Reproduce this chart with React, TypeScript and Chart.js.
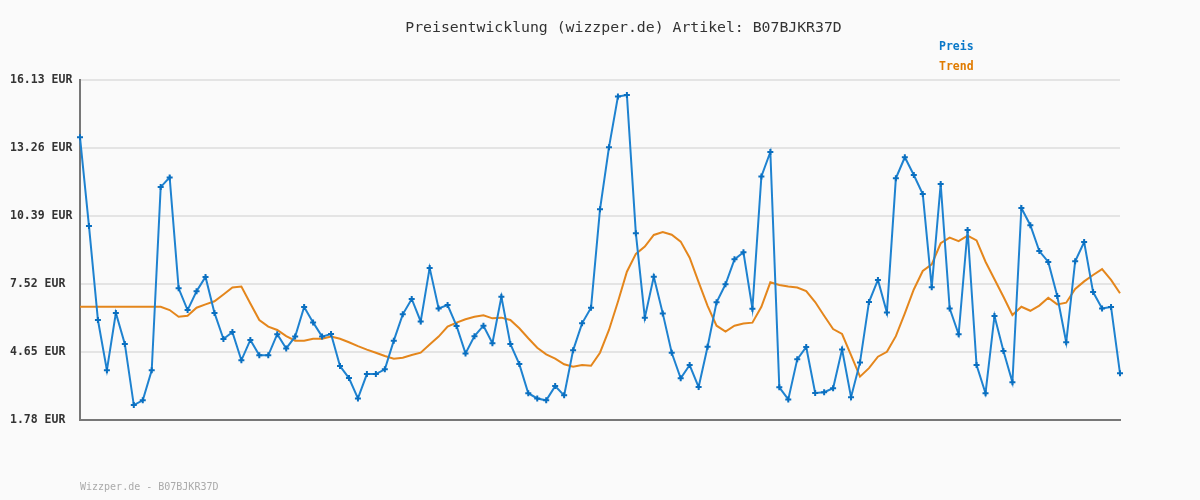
import React, { useEffect, useRef } from "react";
import { Chart, registerables } from "chart.js";

Chart.register(...registerables);

const titleText = "Preisentwicklung (wizzper.de) Artikel: B07BJKR37D";
const footerText = "Wizzper.de - B07BJKR37D";
const seriesNames = ["Preis", "Trend"];
const yTicks = [1.78, 4.65, 7.52, 10.39, 13.26, 16.13];

const priceValues = [
  13.71, 9.97, 6.0, 3.88, 6.3, 4.99, 2.41, 2.61, 3.88, 11.61,
  12.02, 7.34, 6.42, 7.21, 7.82, 6.3, 5.2, 5.49, 4.3, 5.16,
  4.51, 4.51, 5.4, 4.8, 5.3, 6.55, 5.9, 5.3, 5.41, 4.06,
  3.55, 2.69, 3.72, 3.72, 3.92, 5.13, 6.24, 6.89, 5.94, 8.2,
  6.49, 6.63, 5.75, 4.59, 5.32, 5.76, 5.02, 6.98, 4.99, 4.14,
  2.91, 2.69, 2.61, 3.21, 2.82, 4.72, 5.86, 6.52, 10.67, 13.29,
  15.43, 15.5, 9.66, 6.1, 7.83, 6.28, 4.62, 3.54, 4.1, 3.17,
  4.87, 6.75, 7.51, 8.56, 8.86, 6.48, 12.06, 13.09, 3.16, 2.65,
  4.34, 4.86, 2.92, 2.95, 3.12, 4.76, 2.74, 4.21, 6.76, 7.69,
  6.32, 11.98, 12.87, 12.12, 11.32, 7.38, 11.74, 6.49, 5.4, 9.8,
  4.1, 2.91, 6.17, 4.69, 3.37, 10.73, 10.0, 8.91, 8.45, 7.01,
  5.06, 8.48, 9.29, 7.18, 6.49, 6.55, 3.75,
];

const trendValues = [
  6.56, 6.56, 6.56, 6.56, 6.56, 6.56, 6.56, 6.56, 6.56, 6.56,
  6.42, 6.14, 6.18, 6.52, 6.66, 6.79, 7.08, 7.37, 7.41, 6.7,
  6.0, 5.72, 5.58, 5.32, 5.13, 5.13, 5.21, 5.21, 5.3, 5.21,
  5.06, 4.9, 4.75, 4.62, 4.48, 4.37, 4.41, 4.52, 4.62, 4.97,
  5.3, 5.72, 5.89, 6.03, 6.14, 6.2, 6.07, 6.1, 6.0, 5.65,
  5.23, 4.83, 4.55, 4.37, 4.13, 4.03, 4.1, 4.07, 4.62, 5.58,
  6.77, 8.04, 8.79, 9.1, 9.59, 9.71, 9.6, 9.31, 8.63, 7.6,
  6.6, 5.76, 5.51, 5.76, 5.85, 5.89, 6.56, 7.59, 7.48, 7.41,
  7.37, 7.22, 6.76, 6.18, 5.62, 5.41, 4.52, 3.61, 3.97, 4.45,
  4.66, 5.32, 6.28, 7.29, 8.07, 8.35, 9.24, 9.48, 9.33, 9.56,
  9.36, 8.46, 7.72, 6.98, 6.21, 6.56, 6.39, 6.61, 6.94, 6.66,
  6.73, 7.31, 7.63, 7.9, 8.15, 7.69, 7.13,
];

const categories = priceValues.map((_, i) => String(i + 1));

const MONO = '"DejaVu Sans Mono", "Liberation Mono", monospace';

const textPlugin = {
  id: "customText",
  afterDraw(chart: any) {
    const ctx = chart.ctx;
    ctx.save();
    ctx.textBaseline = "middle";
    ctx.fillStyle = "#333333";
    ctx.font = `14.8px ${MONO}`;
    ctx.textAlign = "center";
    ctx.fillText(titleText, 623.5, 28);

    ctx.textAlign = "left";
    ctx.font = `bold 11.5px ${MONO}`;
    ctx.fillStyle = "#0a78c8";
    ctx.fillText(seriesNames[0], 939, 47);
    ctx.fillStyle = "#e07b00";
    ctx.fillText(seriesNames[1], 939, 67);

    ctx.font = `10px ${MONO}`;
    ctx.fillStyle = "#aaaaaa";
    ctx.fillText(footerText, 80, 487);
    ctx.restore();
  },
};

const bgPlugin = {
  id: "bg",
  beforeDraw(chart: any) {
    const ctx = chart.ctx;
    ctx.save();
    ctx.fillStyle = "#fafafa";
    ctx.fillRect(0, 0, chart.width, chart.height);
    ctx.restore();
  },
};

export default function App() {
  const ref = useRef<HTMLCanvasElement>(null);

  useEffect(() => {
    if (!ref.current) return;
    const chart = new Chart(ref.current, {
      type: "line",
      data: {
        labels: categories,
        datasets: [
          {
            label: seriesNames[0],
            data: priceValues,
            borderColor: "#1e82d0",
            borderWidth: 2,
            pointStyle: "cross",
            pointRadius: 3,
            pointBorderWidth: 2,
            pointBorderColor: "#0a6fc0",
            pointBackgroundColor: "#0a6fc0",
            tension: 0,
            order: 1,
          },
          {
            label: seriesNames[1],
            data: trendValues,
            borderColor: "#e4861c",
            borderWidth: 2,
            pointRadius: 0,
            tension: 0,
            order: 2,
          },
        ],
      },
      options: {
        responsive: false,
        animation: false,
        layout: { padding: { left: 10, right: 80, top: 80, bottom: 80 } },
        plugins: {
          legend: { display: false },
          title: { display: false },
          tooltip: { enabled: false },
        },
        scales: {
          x: {
            type: "category",
            offset: false,
            grid: { display: false },
            ticks: { display: false },
            border: { display: true, color: "#777777", width: 2 },
            afterFit(scale: any) {
              scale.height = 0;
            },
          },
          y: {
            min: yTicks[0],
            max: yTicks[yTicks.length - 1],
            afterBuildTicks(scale: any) {
              scale.ticks = yTicks.map((v) => ({ value: v }));
            },
            afterFit(scale: any) {
              scale.width = 70;
            },
            grid: { color: "#e4e4e4", lineWidth: 2, drawTicks: false },
            border: { display: true, color: "#777777", width: 2 },
            ticks: {
              padding: 8,
              crossAlign: "far",
              color: "#333333",
              font: { family: MONO, size: 11.5, weight: "bold" },
              callback: (v: any) => Number(v).toFixed(2) + " EUR",
            },
          },
        },
      },
      plugins: [bgPlugin, textPlugin],
    });
    return () => chart.destroy();
  }, []);

  return (
    <div style={{ position: "absolute", left: 0, top: 0, width: 1200, height: 500, background: "#fafafa" }}>
      <canvas ref={ref} width={1200} height={500} />
    </div>
  );
}
